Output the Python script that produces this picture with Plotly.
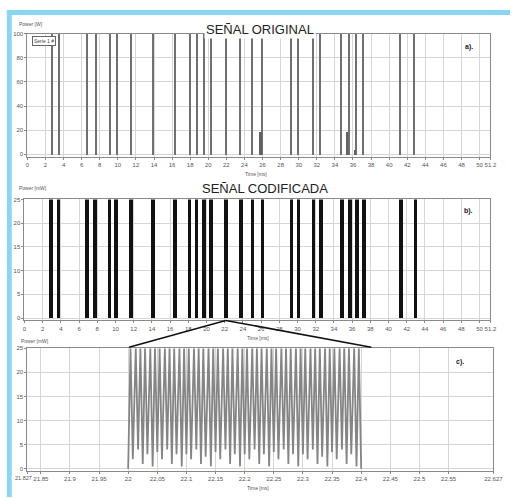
import plotly.graph_objects as go

W, H = 520, 498

# ---- data ----
pulse_t = [2.75, 3.6, 6.7, 7.6, 9.18, 9.92, 11.53, 13.96, 16.37, 18.0, 18.76, 19.6, 20.37,
           21.98, 23.62, 24.9, 26.0, 29.2, 29.96, 31.6, 32.46, 34.77, 35.62, 36.36, 37.14,
           41.22, 42.83]
orig_power = [100] * len(pulse_t)
small_t = [25.85, 35.45, 36.25]
small_power = [19, 19, 4]
coded_power = [25] * len(pulse_t)
burst_len = 0.4

c_peak_t = [22.004, 22.013, 22.021, 22.029, 22.038, 22.046, 22.054, 22.063, 22.071, 22.079,
            22.088, 22.096, 22.104, 22.113, 22.121, 22.129, 22.138, 22.146, 22.154, 22.163,
            22.171, 22.179, 22.188, 22.196, 22.204, 22.213, 22.221, 22.229, 22.238, 22.246,
            22.254, 22.263, 22.271, 22.279, 22.288, 22.296, 22.304, 22.313, 22.321, 22.329,
            22.338, 22.346, 22.354, 22.363, 22.371, 22.379, 22.388, 22.396]
c_trough_t = [22.008, 22.017, 22.025, 22.033, 22.042, 22.050, 22.058, 22.067, 22.075, 22.083,
              22.092, 22.100, 22.108, 22.117, 22.125, 22.133, 22.142, 22.150, 22.158, 22.167,
              22.175, 22.183, 22.192, 22.200, 22.208, 22.217, 22.225, 22.233, 22.242, 22.250,
              22.258, 22.267, 22.275, 22.283, 22.292, 22.300, 22.308, 22.317, 22.325, 22.333,
              22.342, 22.350, 22.358, 22.367, 22.375, 22.383, 22.392, 22.400]
c_trough_v = [2, 4, 1, 3, 0.5, 3.5, 2, 4, 1, 3, 0.5, 3,
              2, 4, 1, 2.5, 0.5, 3.5, 2, 4, 1, 3, 0.5, 3,
              2, 4, 1, 3, 0.5, 3.5, 2, 4, 1, 3, 0.5, 3,
              2, 4, 1, 2.5, 0.5, 3.5, 2, 4, 1, 3, 0.5, 0]
c_peak_v = 25
c_start = 22.0

ab_ticks = list(range(0, 51, 2)) + [51.2]
c_ticks = [21.827, 21.85, 21.9, 21.95, 22.0, 22.05, 22.1, 22.15, 22.2, 22.25, 22.3, 22.35,
           22.4, 22.45, 22.5, 22.55, 22.627]
c_ticktext = ["", "21.85", "21.9", "21.95", "22", "22.05", "22.1", "22.15", "22.2",
              "22.25", "22.3", "22.35", "22.4", "22.45", "22.5", "22.55", "22.627"]
c_first_label = "21.827"


def px_x(p):
    return p / W


def px_y(p):
    return 1 - p / H


fig = go.Figure()

# panel a
fig.add_trace(go.Bar(x=pulse_t, y=orig_power, width=0.14, marker=dict(color="#707070", line=dict(width=0)),
                     xaxis="x", yaxis="y", showlegend=False))
fig.add_trace(go.Bar(x=small_t, y=small_power, width=0.18, marker=dict(color="#606060", line=dict(width=0)),
                     xaxis="x", yaxis="y", showlegend=False))
# panel b
fig.add_trace(go.Bar(x=pulse_t, y=coded_power, width=burst_len, offset=0,
                     marker=dict(color="#111111", line=dict(width=0)),
                     xaxis="x2", yaxis="y2", showlegend=False))
# panel c
cx = [c_start]
cy = [0]
for pt, tt, tv in zip(c_peak_t, c_trough_t, c_trough_v):
    cx += [pt, tt]
    cy += [c_peak_v, tv]
fig.add_trace(go.Scatter(x=cx, y=cy, mode="lines", line=dict(color="#858585", width=1.8),
                         xaxis="x3", yaxis="y3", showlegend=False))

axis_common = dict(showgrid=True, gridcolor="#d6d6d6", gridwidth=1, showline=True,
                   linecolor="#8a8a8a", linewidth=1, mirror=True, ticks="outside",
                   ticklen=2, tickcolor="#888", tickangle=0,
                   tickfont=dict(size=6, color="#555", family="Liberation Sans"),
                   zeroline=False, fixedrange=True)

fig.update_layout(
    width=W, height=H, margin=dict(l=0, r=0, t=0, b=0),
    paper_bgcolor="white", plot_bgcolor="white", bargap=0, barmode="overlay",
    xaxis=dict(axis_common, domain=[px_x(26), px_x(500)], range=[0, 51.2], tickvals=ab_ticks,
               anchor="y"),
    yaxis=dict(axis_common, domain=[px_y(155), px_y(31)], range=[-2, 100],
               tickvals=[0, 20, 40, 60, 80, 100], anchor="x"),
    xaxis2=dict(axis_common, domain=[px_x(23), px_x(500)], range=[0, 51.2], tickvals=ab_ticks,
                anchor="y2"),
    yaxis2=dict(axis_common, domain=[px_y(320), px_y(198)], range=[-0.5, 25],
                tickvals=[0, 5, 10, 15, 20, 25], anchor="x2"),
    xaxis3=dict(axis_common, domain=[px_x(26), px_x(503)], range=[21.827, 22.627],
                tickvals=c_ticks, ticktext=c_ticktext, anchor="y3"),
    yaxis3=dict(axis_common, domain=[px_y(472), px_y(348)], range=[-0.5, 25],
                tickvals=[0, 5, 10, 15, 20, 25], anchor="x3"),
)

shapes = [
    # light blue frame (top and left)
    dict(type="rect", xref="paper", yref="paper", x0=px_x(5), x1=px_x(10), y0=0, y1=px_y(7),
         fillcolor="#8cd5f2", line=dict(width=0), layer="above"),
    dict(type="rect", xref="paper", yref="paper", x0=px_x(5), x1=1, y0=px_y(12), y1=px_y(7),
         fillcolor="#8cd5f2", line=dict(width=0), layer="above"),
    # zoom connector lines
    dict(type="line", xref="paper", yref="paper", x0=px_x(229), y0=px_y(320), x1=px_x(130), y1=px_y(347),
         line=dict(color="#111", width=1.6), layer="above"),
    dict(type="line", xref="paper", yref="paper", x0=px_x(229), y0=px_y(320), x1=px_x(378), y1=px_y(347),
         line=dict(color="#111", width=1.6), layer="above"),
]
fig.update_layout(shapes=shapes)

ann = []


def text(x, y, s, size, color="#333", bg=None, bold=False, border=None, xanchor="center"):
    d = dict(xref="paper", yref="paper", x=px_x(x), y=px_y(y), text=("<b>%s</b>" % s) if bold else s,
             showarrow=False, xanchor=xanchor, yanchor="middle",
             font=dict(size=size, color=color, family="Liberation Sans"))
    if bg:
        d["bgcolor"] = bg
    if border:
        d["bordercolor"] = border
        d["borderwidth"] = 1
        d["borderpad"] = 1
    ann.append(d)


text(264, 27, "SEÑAL ORIGINAL", 13, color="#222", bg="white")
text(269, 187, "SEÑAL CODIFICADA", 13, color="#222", bg="white")
text(15, 21, "Power [W]", 5, color="#555", xanchor="left")
text(15, 186, "Power [mW]", 5, color="#555", xanchor="left")
text(17, 341, "Power [mW]", 5, color="#555", xanchor="left")
text(260, 172, "Time [ms]", 5, color="#555")
text(262, 338, "Time [ms]", 5, color="#555")
text(262, 489, "Time [ms]", 5, color="#555")
text(11, 479, c_first_label, 5.5, color="#555", xanchor="left")
text(31, 38, "Serie 1 #", 5, color="#444", bg="white", border="#666", xanchor="left")
text(478, 44, "a).", 7, color="#222", bold=True)
text(478, 210, "b).", 7, color="#222", bold=True)
text(469, 362, "c).", 7, color="#222", bold=True)
fig.update_layout(annotations=ann)

fig.write_html("out.html")
